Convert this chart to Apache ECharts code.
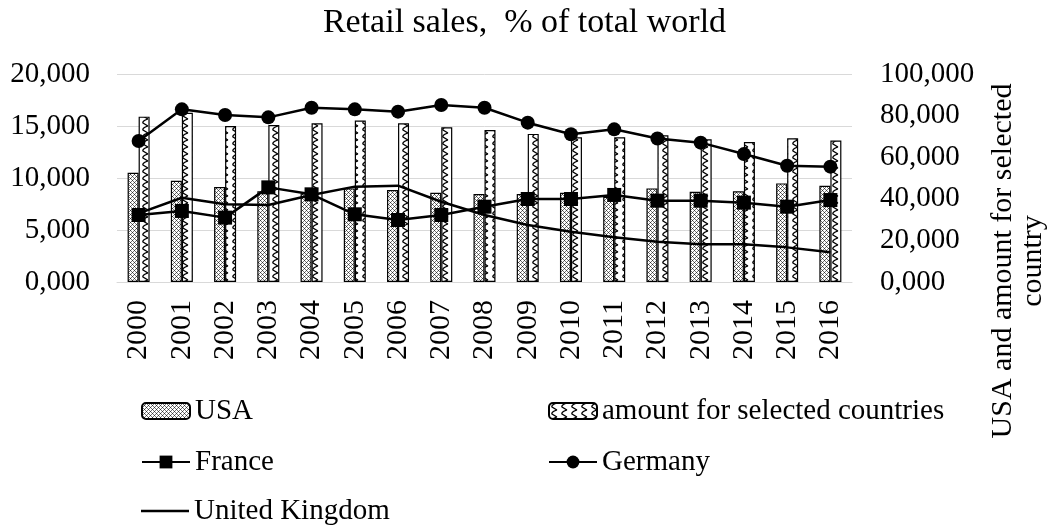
<!DOCTYPE html>
<html>
<head>
<meta charset="utf-8">
<script src="https://cdn.jsdelivr.net/npm/echarts@6/dist/echarts.min.js"></script>
<style>
  html, body { margin: 0; padding: 0; background: #fff; }
  #chart { width: 1049px; height: 526px; }
</style>
</head>
<body>
<div id="chart"></div>
<script>
// data
const years = ['2000', '2001', '2002', '2003', '2004', '2005', '2006', '2007', '2008',
  '2009', '2010', '2011', '2012', '2013', '2014', '2015', '2016'];
const usa = [52.5, 48.7, 45.7, 43.6, 42.6, 45.0, 44.2, 42.9, 42.3, 42.3, 42.9, 41.0, 45.0, 43.4, 43.6, 47.4, 46.3];
const amount = [79.5, 81.4, 75.0, 75.5, 76.3, 77.6, 76.3, 74.4, 73.1, 71.2, 69.6, 69.6, 70.5, 68.6, 67.3, 69.1, 68.0];
const france = [6.44, 6.83, 6.19, 9.10, 8.43, 6.51, 5.96, 6.44, 7.24, 7.98, 7.98, 8.37, 7.82, 7.82, 7.63, 7.24, 7.88];
const germany = [13.56, 16.60, 16.06, 15.83, 16.76, 16.60, 16.38, 17.02, 16.76, 15.32, 14.20, 14.68, 13.80, 13.40, 12.30, 11.18, 11.09];
const uk = [6.60, 8.10, 7.47, 7.40, 8.37, 9.17, 9.26, 7.72, 6.44, 5.48, 4.84, 4.30, 3.88, 3.62, 3.62, 3.33, 2.86];

const FONT = '"Liberation Serif", "DejaVu Serif", serif';

function fmt(v) {
    return v.toFixed(3).replace('.', ',');
}

// hatch fills for the bars
function dotPattern() {
    const c = document.createElement('canvas');
    c.width = 4; c.height = 4;
    const g = c.getContext('2d');
    g.fillStyle = '#ffffff';
    g.fillRect(0, 0, 4, 4);
    g.fillStyle = '#333333';
    g.fillRect(0, 0, 1, 1);
    g.fillRect(2, 2, 1, 1);
    g.fillStyle = '#777777';
    g.fillRect(1, 1, 1, 1);
    g.fillRect(3, 3, 1, 1);
    g.fillRect(3, 1, 1, 1);
    g.fillRect(1, 3, 1, 1);
    return c;
}

function wavePattern() {
    const c = document.createElement('canvas');
    c.width = 10; c.height = 7;
    const g = c.getContext('2d');
    g.fillStyle = '#ffffff';
    g.fillRect(0, 0, 10, 7);
    g.strokeStyle = '#000000';
    g.lineWidth = 1.3;
    g.beginPath();
    g.moveTo(8, 0);
    g.quadraticCurveTo(2, 2, 3, 4);
    g.lineTo(8, 7);
    g.stroke();
    return c;
}

const chart = echarts.init(document.getElementById('chart'));

const legendText = { fontFamily: FONT, fontSize: 29, color: '#000', lineHeight: 30 };
function legendAt(item, left, center, h) {
    return {
        data: [item],
        left: left,
        top: center - 15,
        itemWidth: 48,
        itemHeight: h || 16,
        itemGap: 6,
        textStyle: legendText,
        selectedMode: false
    };
}

chart.setOption({
    animation: false,
    backgroundColor: '#fff',
    title: {
        text: 'Retail sales,  % of total world',
        left: 'center',
        top: 1,
        textStyle: { fontFamily: FONT, fontSize: 34, fontWeight: 'normal', color: '#000' }
    },
    legend: [
        legendAt('USA', 136, 406),
        legendAt('France', 136, 457),
        legendAt({ name: 'United Kingdom', icon: 'rect' }, 136, 506, 2.5),
        legendAt('amount for selected countries', 543, 406),
        legendAt('Germany', 543, 457)
    ],
    grid: { left: 117, right: 197, top: 74, bottom: 244, containLabel: false },
    xAxis: {
        type: 'category',
        data: years,
        axisLine: { lineStyle: { color: '#d9d9d9', width: 1 } },
        axisTick: { show: false },
        axisLabel: { rotate: 90, margin: 18, fontFamily: FONT, fontSize: 30, color: '#000' }
    },
    yAxis: [
        {
            type: 'value',
            min: 0, max: 20, interval: 5,
            axisLine: { show: false },
            axisTick: { show: false },
            splitLine: { lineStyle: { color: '#d9d9d9', width: 1 } },
            axisLabel: { formatter: fmt, margin: 27, fontFamily: FONT, fontSize: 29, color: '#000' }
        },
        {
            type: 'value',
            min: 0, max: 100, interval: 20,
            position: 'right',
            axisLine: { show: false },
            axisTick: { show: false },
            splitLine: { show: false },
            axisLabel: { formatter: fmt, margin: 28, fontFamily: FONT, fontSize: 29, color: '#000' }
        }
    ],
    graphic: [{
        type: 'text',
        x: 1018,
        y: 261,
        rotation: Math.PI / 2,
        style: {
            text: 'USA and amount for selected\ncountry',
            fontFamily: FONT,
            fontSize: 30,
            lineHeight: 30,
            fill: '#000',
            align: 'center',
            verticalAlign: 'middle'
        }
    }],
    series: [
        {
            name: 'USA',
            type: 'bar',
            yAxisIndex: 1,
            data: usa,
            barWidth: 11,
            barGap: '0%',
            itemStyle: { color: { image: dotPattern(), repeat: 'repeat' }, borderColor: '#000', borderWidth: 1.2 }
        },
        {
            name: 'amount for selected countries',
            type: 'bar',
            yAxisIndex: 1,
            data: amount,
            barWidth: 11,
            barGap: '0%',
            itemStyle: { color: { image: wavePattern(), repeat: 'repeat' }, borderColor: '#000', borderWidth: 1.2 }
        },
        {
            name: 'France',
            type: 'line',
            data: france,
            z: 5,
            symbol: 'rect',
            symbolSize: 14,
            lineStyle: { color: '#000', width: 2.5 },
            itemStyle: { color: '#000' }
        },
        {
            name: 'Germany',
            type: 'line',
            data: germany,
            z: 5,
            symbol: 'circle',
            symbolSize: 14,
            lineStyle: { color: '#000', width: 2.5 },
            itemStyle: { color: '#000' }
        },
        {
            name: 'United Kingdom',
            type: 'line',
            data: uk,
            z: 5,
            symbol: 'none',
            lineStyle: { color: '#000', width: 2.5 },
            itemStyle: { color: '#000' }
        }
    ]
});
</script>
</body>
</html>
